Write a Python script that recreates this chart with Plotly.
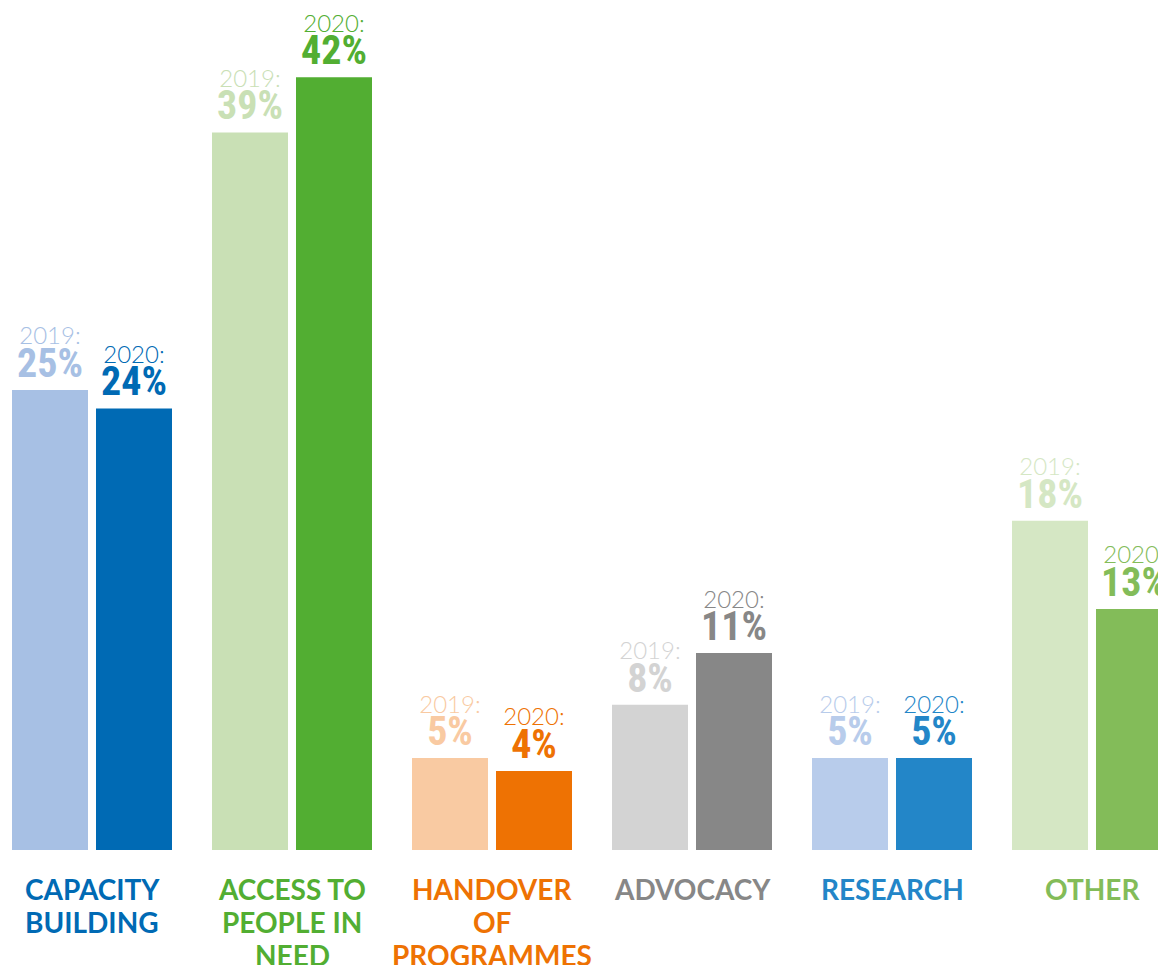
import plotly.graph_objects as go

categories = ["CAPACITY<br>BUILDING", "ACCESS TO<br>PEOPLE IN<br>NEED", "HANDOVER<br>OF<br>PROGRAMMES",
              "ADVOCACY", "RESEARCH", "OTHER"]
values_2019 = [25, 39, 5, 7.9, 5, 17.9]
values_2020 = [24, 42, 4.3, 10.7, 5, 13.1]
colors_2019 = ["#A7C0E4", "#C9E0B5", "#F9CAA2", "#D3D3D3", "#B8CCEB", "#D5E7C4"]
colors_2020 = ["#006AB4", "#52AE32", "#EE7203", "#878787", "#2386C8", "#83BC59"]
cat_colors = ["#006AB4", "#52AE32", "#EE7203", "#878787", "#2386C8", "#83BC59"]

xpos = list(range(len(categories)))
num_font = "Roboto Condensed, Liberation Sans Narrow, Arial Narrow, sans-serif"
lbl_font = "Lato, Inter, sans-serif"

def labels(year, vals):
    return [f"<span style='font-family:Lato;font-weight:300;font-size:24px'>{year}:</span><br>"
            f"<span style='font-size:40px'><b>{round(v)}%</b></span>" for v in vals]

fig = go.Figure()
fig.add_trace(go.Bar(
    x=xpos, y=values_2019, width=0.38, offset=-0.40,
    marker=dict(color=colors_2019, line=dict(width=0)),
    text=labels(2019, values_2019), textposition="outside", cliponaxis=False,
    textfont=dict(color=colors_2019, size=25, family=num_font),
    constraintext="none", hoverinfo="skip",
))
fig.add_trace(go.Bar(
    x=xpos, y=values_2020, width=0.38, offset=0.02,
    marker=dict(color=colors_2020, line=dict(width=0)),
    text=labels(2020, values_2020), textposition="outside", cliponaxis=False,
    textfont=dict(color=colors_2020, size=25, family=num_font),
    constraintext="none", hoverinfo="skip",
))

for x, c, col in zip(xpos, categories, cat_colors):
    for i, line in enumerate(c.split("<br>")):
        fig.add_annotation(x=x, y=0, xref="x", yref="y", text=f"<b>{line}</b>",
                           showarrow=False, yanchor="middle", yshift=-39 - 33 * i,
                           font=dict(family=lbl_font, size=28, color=col))

fig.update_layout(
    width=1166, height=957, barmode="overlay",
    margin=dict(l=0, r=0, t=0, b=115),
    plot_bgcolor="white", paper_bgcolor="white",
    showlegend=False,
    xaxis=dict(range=[-0.42, 5.41], visible=False, fixedrange=True),
    yaxis=dict(range=[0, 45.76], visible=False, fixedrange=True),
)
fig.write_html("out.html")
